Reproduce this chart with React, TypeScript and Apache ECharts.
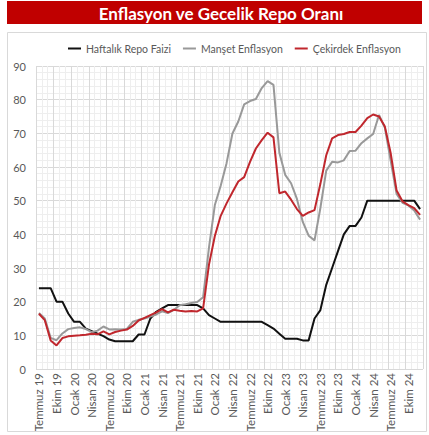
import React, { useEffect, useRef } from "react";
import * as echarts from "echarts";

const categories: string[] = [
  "Temmuz 19", "Ağustos 19", "Eylül 19", "Ekim 19", "Kasım 19", "Aralık 19",
  "Ocak 20", "Şubat 20", "Mart 20", "Nisan 20", "Mayıs 20", "Haziran 20",
  "Temmuz 20", "Ağustos 20", "Eylül 20", "Ekim 20", "Kasım 20", "Aralık 20",
  "Ocak 21", "Şubat 21", "Mart 21", "Nisan 21", "Mayıs 21", "Haziran 21",
  "Temmuz 21", "Ağustos 21", "Eylül 21", "Ekim 21", "Kasım 21", "Aralık 21",
  "Ocak 22", "Şubat 22", "Mart 22", "Nisan 22", "Mayıs 22", "Haziran 22",
  "Temmuz 22", "Ağustos 22", "Eylül 22", "Ekim 22", "Kasım 22", "Aralık 22",
  "Ocak 23", "Şubat 23", "Mart 23", "Nisan 23", "Mayıs 23", "Haziran 23",
  "Temmuz 23", "Ağustos 23", "Eylül 23", "Ekim 23", "Kasım 23", "Aralık 23",
  "Ocak 24", "Şubat 24", "Mart 24", "Nisan 24", "Mayıs 24", "Haziran 24",
  "Temmuz 24", "Ağustos 24", "Eylül 24", "Ekim 24", "Kasım 24", "Aralık 24",
];

const seriesNames: string[] = ["Haftalık Repo Faizi", "Manşet Enflasyon", "Çekirdek Enflasyon"];

const repoRate: number[] = [
  24, 24, 24, 20, 20, 16.5, 14, 14, 12, 11.25,
  10.5, 9.75, 8.75, 8.25, 8.25, 8.25, 8.25, 10.25, 10.25, 15,
  17, 18, 19, 19, 19, 19, 19, 19, 18, 16,
  15, 14, 14, 14, 14, 14, 14, 14, 14, 13,
  12, 10.5, 9, 9, 9, 8.5, 8.5, 15, 17.5, 25,
  30, 35, 40, 42.5, 42.5, 45, 50, 50, 50, 50,
  50, 50, 50, 50, 50, 47.5,
];

const headlineInflation: number[] = [
  16.65, 15.01, 9.26, 8.55, 10.56, 11.84, 12.15, 12.37, 11.86, 10.94,
  11.39, 12.62, 11.76, 11.77, 11.75, 11.89, 14.03, 14.6, 14.97, 15.61,
  16.19, 17.14, 16.59, 17.53, 18.95, 19.25, 19.58, 19.89, 21.31, 36.08,
  48.69, 54.44, 61.14, 69.97, 73.5, 78.62, 79.6, 80.21, 83.45, 85.51,
  84.39, 64.27, 57.68, 55.18, 50.51, 43.68, 39.59, 38.21, 47.83, 58.94,
  61.53, 61.36, 61.98, 64.77, 64.86, 67.07, 68.5, 69.8, 75.45, 71.6,
  61.78, 51.97, 49.38, 48.58, 47.09, 44.38,
];

const coreInflation: number[] = [
  16.4, 14.5, 8.5, 7.0, 9.2, 9.7, 9.9, 10.0, 10.2, 10.5,
  10.3, 11.2, 10.3, 11.0, 11.4, 11.7, 12.8, 14.4, 15.2, 16.0,
  16.8, 17.8, 16.8, 17.6, 17.3, 17.1, 17.2, 17.1, 18.0, 31.0,
  39.5, 45.5, 49.2, 52.5, 55.7, 57.0, 61.5, 65.5, 68.0, 70.2,
  68.8, 52.2, 52.7, 50.3, 47.5, 45.5, 46.5, 47.2, 55.0, 63.5,
  68.5, 69.5, 69.8, 70.4, 70.4, 72.3, 74.5, 75.6, 75.0, 72.0,
  64.0, 53.0, 49.8, 48.7, 47.8, 45.8,
];

const titleText = "Enflasyon ve Gecelik Repo Oranı";
const FONT = "Lato, 'Noto Sans', sans-serif";

export default function App() {
  const ref = useRef<HTMLDivElement>(null);

  useEffect(() => {
    if (!ref.current) return;
    const chart = echarts.init(ref.current, undefined, { renderer: "svg" });
    const textColor = "#595959";
    chart.setOption({
      animation: false,
      backgroundColor: "#ffffff",
      textStyle: { fontFamily: FONT },
      graphic: [
        {
          type: "rect",
          shape: { x: 7.5, y: 32.5, width: 419, height: 399 },
          style: { fill: "none", stroke: "#d9d9d9", lineWidth: 1 },
          silent: true,
          z: -10,
        },
        {
          type: "rect",
          shape: { x: 7, y: 1, width: 415, height: 23 },
          style: { fill: "#C00000" },
          silent: true,
        },
        {
          type: "text",
          x: 221,
          y: 13,
          style: {
            text: titleText,
            fill: "#ffffff",
            font: `bold 17px ${FONT}`,
            textAlign: "center",
            textVerticalAlign: "middle",
          },
          silent: true,
        },
      ],
      legend: {
        data: seriesNames,
        left: 63,
        top: 38,
        icon: "rect",
        itemWidth: 13,
        itemHeight: 2,
        itemGap: 12,
        textStyle: { color: textColor, fontSize: 10.5, fontFamily: FONT },
      },
      grid: { left: 36, right: 6, top: 66, bottom: 66, containLabel: false },
      xAxis: [
        {
          type: "category",
          data: categories,
          boundaryGap: true,
          axisLine: { show: false },
          axisTick: { show: false },
          axisLabel: {
            interval: 2,
            rotate: 90,
            color: textColor,
            fontSize: 11.5,
            fontFamily: FONT,
            margin: 4,
          },
          splitLine: { show: true, interval: 0, lineStyle: { color: "#eeeeee", width: 1 } },
        },
        {
          type: "category",
          data: categories,
          boundaryGap: true,
          position: "bottom",
          axisLine: { show: false },
          axisTick: { show: false },
          axisLabel: { show: false },
          splitLine: { show: true, interval: 2, lineStyle: { color: "#d9d9d9", width: 1 } },
        },
      ],
      yAxis: {
        type: "value",
        min: 0,
        max: 90,
        interval: 10,
        axisLine: { show: false },
        axisTick: { show: false },
        axisLabel: { color: textColor, fontSize: 11, fontFamily: FONT, margin: 10 },
        splitLine: { show: true, lineStyle: { color: "#d9d9d9", width: 1 } },
        minorTick: { show: false, splitNumber: 5 },
        minorSplitLine: { show: true, lineStyle: { color: "#eeeeee", width: 1 } },
      },
      series: [
        {
          name: seriesNames[0],
          type: "line",
          data: repoRate,
          symbol: "none",
          lineStyle: { color: "#111111", width: 2 },
          itemStyle: { color: "#111111" },
          z: 3,
        },
        {
          name: seriesNames[1],
          type: "line",
          data: headlineInflation,
          symbol: "none",
          lineStyle: { color: "#999999", width: 2 },
          itemStyle: { color: "#999999" },
          z: 4,
        },
        {
          name: seriesNames[2],
          type: "line",
          data: coreInflation,
          symbol: "none",
          lineStyle: { color: "#C0272D", width: 2 },
          itemStyle: { color: "#C0272D" },
          z: 5,
        },
      ],
    });
    return () => chart.dispose();
  }, []);

  return (
    <div
      ref={ref}
      style={{ position: "fixed", left: 0, top: 0, width: 429, height: 435 }}
    />
  );
}
